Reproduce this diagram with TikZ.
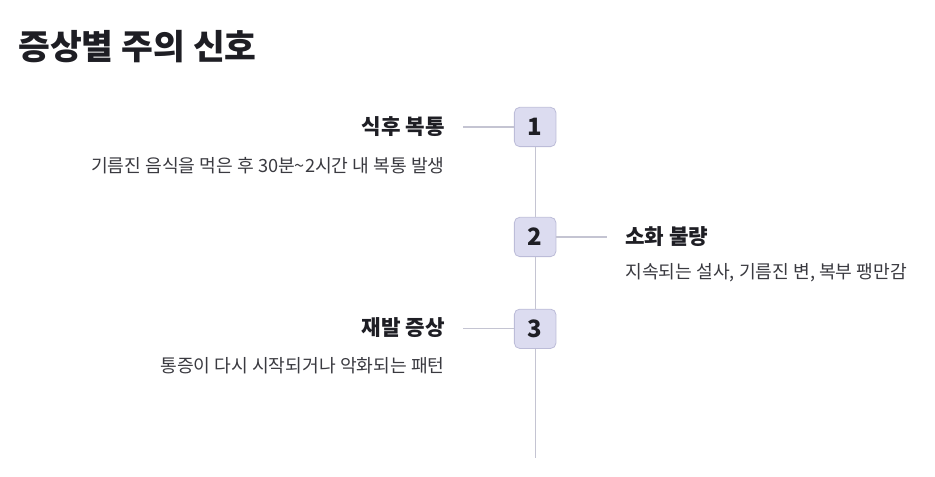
\documentclass[tikz,border=0pt]{standalone}
\usepackage{fontspec}
\setmainfont{Noto Sans CJK KR}
\usepackage{tikz}
\usetikzlibrary{positioning,calc}
\usepackage{xcolor}
\definecolor{sgInk}{HTML}{1E1E24}
\definecolor{sgText}{HTML}{3A3A40}
\definecolor{sgBox}{HTML}{DCDCF0}
\definecolor{sgBoxLine}{HTML}{BCBCD8}
\definecolor{sgRail}{HTML}{C4C4D2}
\tikzset{
  heading/.style={anchor=west, inner sep=0pt, text=sgInk, font=\fontsize{26}{30}\selectfont\bfseries},
  stepnum/.style={rounded corners=4pt, draw=sgBoxLine, fill=sgBox, line width=0.6pt, minimum width=1.1cm, minimum height=1.04cm, inner sep=0pt, text=sgInk, font=\fontsize{18}{21}\selectfont\bfseries},
  steplabel/.style={inner sep=0pt, text=sgInk, font=\fontsize{16}{19}\selectfont\bfseries},
  stepdesc/.style={inner sep=0pt, text=sgText, font=\fontsize{13.7}{16}\selectfont},
  rail/.style={draw=sgRail, line width=0.9pt},
  tick/.style={draw=sgRail, line width=0.9pt}
}
\begin{document}
\begin{tikzpicture}[x=1cm,y=1cm]
  \useasboundingbox (0,0) rectangle (24.74,-12.62);
  \node[heading] (ttl) at (0.48,-1.24) {증상별 주의 신호};
  % timeline steps
  \node[stepnum] (n1) at (14.16,-3.36) {1};
  \node[stepnum] (n2) at (14.16,-6.27) {2};
  \node[stepnum] (n3) at (14.16,-8.70) {3};
  \coordinate (railend) at (14.16,-12.12);
  \coordinate (c1) at (12.25,-3.36);
  \coordinate (c2) at (16.06,-6.27);
  \coordinate (c3) at (12.25,-8.70);
  \draw[rail] (n1.south) -- (n2.north);
  \draw[rail] (n2.south) -- (n3.north);
  \draw[rail] (n3.south) -- (railend);
  \draw[tick] (n1.west) -- (c1);
  \draw[tick] (n2.east) -- (c2);
  \draw[tick] (n3.west) -- (c3);
  % labels
  \node[steplabel, anchor=east] (l1) at (11.77,-3.36) {식후 복통};
  \node[stepdesc, anchor=east] (d1) at (11.77,-4.37) {기름진 음식을 먹은 후 30분\textasciitilde 2시간 내 복통 발생};
  \node[steplabel, anchor=west] (l2) at (16.54,-6.25) {소화 불량};
  \node[stepdesc, anchor=west] (d2) at (16.54,-7.22) {지속되는 설사, 기름진 변, 복부 팽만감};
  \node[steplabel, anchor=east] (l3) at (11.77,-8.68) {재발 증상};
  \node[stepdesc, anchor=east] (d3) at (11.77,-9.68) {통증이 다시 시작되거나 악화되는 패턴};
\end{tikzpicture}
\end{document}
